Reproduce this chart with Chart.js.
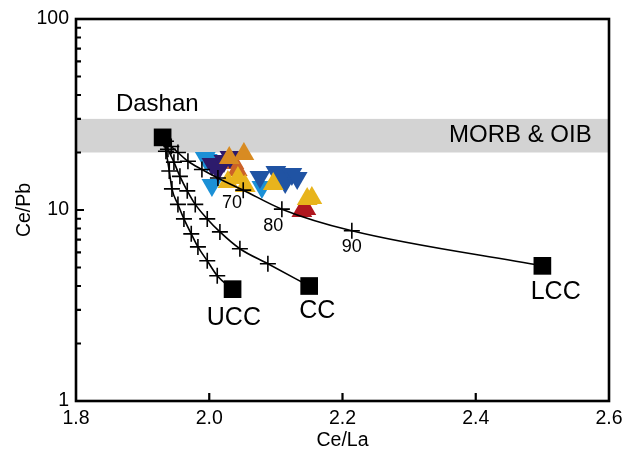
<!DOCTYPE html>
<html>
<head>
<meta charset="utf-8">
<title>Ce/Pb vs Ce/La</title>
<script src="https://cdn.jsdelivr.net/npm/chart.js@4.4.1/dist/chart.umd.min.js"></script>
<style>
  body { margin: 0; background: #fff; }
  #wrap { width: 635px; height: 457px; }
</style>
</head>
<body>
<div id="wrap"><canvas id="chart"></canvas></div>
<script>
// end members
var dashan = [{x: 1.93, y: 24.0}];
var endMembers = [
  {x: 2.035, y: 3.85},  // UCC
  {x: 2.150, y: 4.0},   // CC
  {x: 2.500, y: 5.1}    // LCC
];

// mixing curves: Dashan -> 10..90 % marks -> end member
var uccCurve = [
  {x: 1.93, y: 24.0},
  {x: 1.935, y: 20.3}, {x: 1.940, y: 16.0}, {x: 1.944, y: 12.9},
  {x: 1.953, y: 10.7}, {x: 1.962, y: 8.98}, {x: 1.973, y: 7.5},
  {x: 1.983, y: 6.41}, {x: 1.997, y: 5.42}, {x: 2.012, y: 4.53},
  {x: 2.035, y: 3.85}
];
var ccCurve = [
  {x: 1.93, y: 24.0},
  {x: 1.938, y: 20.8}, {x: 1.947, y: 17.8}, {x: 1.956, y: 15.0},
  {x: 1.967, y: 12.6}, {x: 1.979, y: 10.7}, {x: 1.997, y: 8.98},
  {x: 2.016, y: 7.68}, {x: 2.046, y: 6.27}, {x: 2.088, y: 5.23},
  {x: 2.150, y: 4.0}
];
var lccCurve = [
  {x: 1.93, y: 24.0},
  {x: 1.935, y: 22.9}, {x: 1.943, y: 21.5}, {x: 1.953, y: 20.0},
  {x: 1.968, y: 18.0}, {x: 1.989, y: 16.3}, {x: 2.013, y: 14.7},
  {x: 2.051, y: 12.7}, {x: 2.109, y: 10.1}, {x: 2.214, y: 7.78},
  {x: 2.500, y: 5.1}
];

// samples
var lightBlue = [{x: 1.994, y: 18.7}, {x: 1.997, y: 18.27}, {x: 2.004, y: 13.52}, {x: 2.079, y: 13.19}];
var purple = [{x: 2.004, y: 17.41}, {x: 2.022, y: 18.05}, {x: 2.013, y: 16.2}, {x: 2.031, y: 18.95}];
var darkBlue = [{x: 2.076, y: 14.89}, {x: 2.100, y: 15.81}, {x: 2.106, y: 14.89},
                {x: 2.114, y: 14.02}, {x: 2.124, y: 15.43}, {x: 2.132, y: 14.71}];
var orange = [{x: 2.052, y: 19.64}, {x: 2.030, y: 18.72}];
var brown = [{x: 2.037, y: 17.63}, {x: 2.042, y: 16.2}];
var yellow = [{x: 2.028, y: 14.02}, {x: 2.043, y: 14.71}, {x: 2.054, y: 13.36},
              {x: 2.096, y: 13.68}, {x: 2.147, y: 11.42}, {x: 2.154, y: 11.56}];
var red = [{x: 2.139, y: 9.88}, {x: 2.145, y: 10.12}];

// MORB & OIB field
var band = [20, 30];

var xTickValues = [2.0, 2.2, 2.4];
var yTickLabels = [1, 10, 100];

var labels = [
  {text: 'Dashan', x: 1.922, y: 35.9, align: 'center', size: 24},
  {text: 'MORB & OIB', x: 2.574, y: 24.5, align: 'right', size: 24},
  {text: 'UCC', x: 2.037, y: 2.72, align: 'center', size: 25},
  {text: 'CC', x: 2.162, y: 2.96, align: 'center', size: 25},
  {text: 'LCC', x: 2.52, y: 3.72, align: 'center', size: 25},
  {text: '70', x: 2.034, y: 10.9, align: 'center', size: 18},
  {text: '80', x: 2.096, y: 8.25, align: 'center', size: 18},
  {text: '90', x: 2.214, y: 6.4, align: 'center', size: 18}
];

var FONT = '"Liberation Sans", Arial, sans-serif';

var decor = {
  id: 'decor',
  beforeDatasetsDraw: function (chart) {
    var ctx = chart.ctx, a = chart.chartArea, ys = chart.scales.y;
    var y1 = ys.getPixelForValue(band[1]), y0 = ys.getPixelForValue(band[0]);
    ctx.save();
    ctx.fillStyle = '#d3d3d3';
    ctx.fillRect(a.left, y1, a.right - a.left, y0 - y1);
    ctx.restore();
  },
  afterDatasetsDraw: function (chart) {
    var ctx = chart.ctx, xs = chart.scales.x, ys = chart.scales.y;
    ctx.save();
    ctx.fillStyle = '#000';
    ctx.textBaseline = 'middle';
    labels.forEach(function (l) {
      ctx.font = l.size + 'px ' + FONT;
      ctx.textAlign = l.align;
      ctx.fillText(l.text, xs.getPixelForValue(l.x), ys.getPixelForValue(l.y));
    });
    ctx.restore();
  },
  afterDraw: function (chart) {
    var ctx = chart.ctx, a = chart.chartArea, xs = chart.scales.x, ys = chart.scales.y;
    ctx.save();
    ctx.strokeStyle = '#000';
    ctx.lineWidth = 2.2;
    ctx.beginPath();
    xTickValues.forEach(function (v) {
      var px = xs.getPixelForValue(v);
      ctx.moveTo(px, a.bottom);
      ctx.lineTo(px, a.bottom - 8);
    });
    for (var d = 1; d < 100; d *= 10) {
      for (var m = 1; m < 10; m++) {
        var v = d * m;
        if (v === 1) continue;
        var py = ys.getPixelForValue(v);
        ctx.moveTo(a.left, py);
        ctx.lineTo(a.left + (m === 1 ? 8 : 5), py);
      }
    }
    ctx.stroke();
    ctx.lineWidth = 2.6;
    ctx.strokeRect(a.left, a.top, a.right - a.left, a.bottom - a.top);
    ctx.restore();
  }
};

function curve(data) {
  return {
    type: 'scatter',
    data: data,
    showLine: true,
    borderColor: '#000',
    borderWidth: 1.6,
    cubicInterpolationMode: 'monotone',
    pointStyle: 'cross',
    pointRadius: function (c) { return (c.dataIndex === 0 || c.dataIndex === data.length - 1) ? 0 : 8; },
    pointBorderColor: '#000',
    pointBorderWidth: 1.6,
    order: 1
  };
}

function tri(data, color, down, order) {
  return {
    type: 'scatter',
    data: data,
    pointStyle: 'triangle',
    rotation: down ? 180 : 0,
    pointRadius: 12,
    backgroundColor: color,
    borderColor: color,
    borderWidth: 0,
    order: order
  };
}

new Chart(document.getElementById('chart'), {
  type: 'scatter',
  data: {
    datasets: [
      {
        data: dashan.concat(endMembers),
        pointStyle: 'rect',
        pointRadius: 12.5,
        backgroundColor: '#000',
        borderColor: '#000',
        borderWidth: 0,
        order: 0
      },
      curve(uccCurve),
      curve(ccCurve),
      curve(lccCurve),
      tri(yellow, '#e8b41c', false, 2),
      tri(orange, '#d88b22', false, 3),
      tri(purple, '#2d1b6c', true, 4),
      tri(brown, '#cc6228', false, 5),
      tri(darkBlue, '#2053a3', true, 6),
      tri(red, '#b0171f', false, 7),
      tri(lightBlue, '#1b90d6', true, 8)
    ]
  },
  options: {
    responsive: true,
    maintainAspectRatio: false,
    animation: false,
    layout: { padding: { top: 19, right: 26, left: 0, bottom: 0 } },
    plugins: { legend: { display: false }, tooltip: { enabled: false } },
    scales: {
      x: {
        type: 'linear',
        min: 1.8,
        max: 2.6,
        afterFit: function (s) { s.height = 56; },
        grid: { display: false, drawTicks: false },
        border: { display: false },
        ticks: {
          stepSize: 0.2,
          padding: 6,
          color: '#000',
          font: { family: FONT, size: 19.5 },
          callback: function (v) { return v.toFixed(1); }
        },
        title: { display: true, text: 'Ce/La', color: '#000', font: { family: FONT, size: 19.5 }, padding: { top: 0, bottom: 5 } }
      },
      y: {
        type: 'logarithmic',
        min: 1,
        max: 100,
        afterFit: function (s) { s.width = 76; },
        afterBuildTicks: function (s) { s.ticks = yTickLabels.map(function (v) { return {value: v}; }); },
        grid: { display: false, drawTicks: false },
        border: { display: false },
        ticks: {
          padding: 7,
          color: '#000',
          font: { family: FONT, size: 19.5 },
          callback: function (v) { return String(v); }
        },
        title: { display: true, text: 'Ce/Pb', color: '#000', font: { family: FONT, size: 19.5 }, padding: { top: 13, bottom: 0 } }
      }
    }
  },
  plugins: [decor]
});
</script>
</body>
</html>
